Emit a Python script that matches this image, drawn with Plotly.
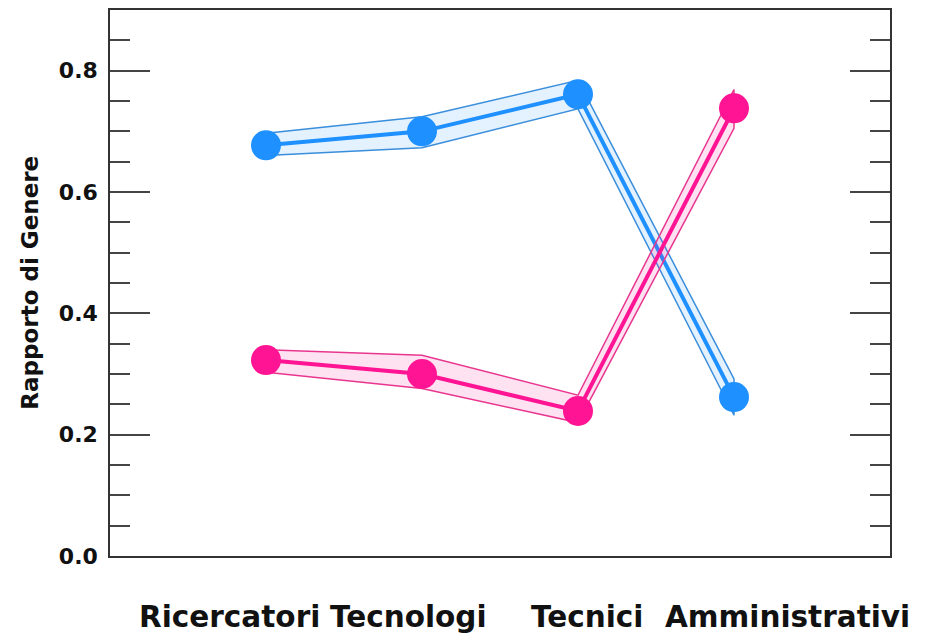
import plotly.graph_objects as go

categories = ["Ricercatori", "Tecnologi", "Tecnici", "Amministrativi"]
blue_values = [0.677, 0.700, 0.761, 0.262]
blue_upper = [0.697, 0.724, 0.784, 0.292]
blue_lower = [0.660, 0.673, 0.737, 0.232]
pink_values = [0.323, 0.300, 0.239, 0.738]
pink_upper = [0.340, 0.331, 0.265, 0.769]
pink_lower = [0.303, 0.276, 0.220, 0.705]
y_tick_vals = [0.0, 0.2, 0.4, 0.6, 0.8]
y_tick_text = ["0.0", "0.2", "0.4", "0.6", "0.8"]

# horizontal nudges of the category labels (pixels), as in the reference
label_shift = [-37, -14, 9, 53]

BLUE = "#1E90FF"
BLUE_FILL = "rgba(30,144,255,0.12)"
BLUE_EDGE = "#3A8EDB"
PINK = "#FF1493"
PINK_FILL = "rgba(255,20,147,0.12)"
PINK_EDGE = "#E8368F"

xs = list(range(len(categories)))

fig = go.Figure()

for vals, up, lo, col, fill, edge in [
    (blue_values, blue_upper, blue_lower, BLUE, BLUE_FILL, BLUE_EDGE),
    (pink_values, pink_upper, pink_lower, PINK, PINK_FILL, PINK_EDGE),
]:
    fig.add_trace(go.Scatter(
        x=xs + xs[::-1], y=up + lo[::-1],
        fill="toself", fillcolor=fill,
        line=dict(color=edge, width=1.5),
        mode="lines", hoverinfo="skip", showlegend=False,
    ))
    fig.add_trace(go.Scatter(
        x=xs, y=vals, mode="lines+markers",
        line=dict(color=col, width=4),
        marker=dict(color=col, size=30),
        showlegend=False,
    ))

font_family = "DejaVu Sans, Liberation Sans, Arial, sans-serif"

annotations = [dict(
    text="Rapporto di Genere", textangle=-90,
    xref="paper", yref="paper", x=-0.103, y=0.5,
    xanchor="center", yanchor="middle", showarrow=False,
    font=dict(size=23, weight="bold", color="#111", family=font_family),
)]
for i, (cat, sh) in enumerate(zip(categories, label_shift)):
    annotations.append(dict(
        text=cat, xref="x", yref="paper", x=xs[i], y=0,
        xanchor="center", yanchor="middle", xshift=sh, yshift=-61,
        showarrow=False,
        font=dict(size=29.5, weight="bold", color="#111", family=font_family),
    ))

fig.update_layout(
    width=926, height=636,
    margin=dict(l=102, r=44, t=2, b=88),
    paper_bgcolor="white", plot_bgcolor="white",
    font=dict(family=font_family, color="#111"),
    xaxis=dict(
        range=[-1, 4], automargin=False,
        tickmode="array", tickvals=xs, showticklabels=False,
        showgrid=False, zeroline=False,
        showline=True, linecolor="#333", linewidth=1.5, mirror=True,
        ticks="",
    ),
    yaxis=dict(
        range=[0, 0.9], automargin=False,
        tickmode="array", tickvals=y_tick_vals, ticktext=y_tick_text,
        tickfont=dict(size=22, weight="bold", color="#111"),
        showgrid=False, zeroline=False,
        showline=True, linecolor="#333", linewidth=1.5, mirror="ticks",
        ticks="inside", ticklen=40, tickwidth=2, tickcolor="#444",
        ticklabelstandoff=6,
        minor=dict(dtick=0.05, tick0=0, ticks="inside", ticklen=20,
                   tickwidth=2, tickcolor="#444", showgrid=False),
    ),
    annotations=annotations,
)

fig.write_html("out.html")
